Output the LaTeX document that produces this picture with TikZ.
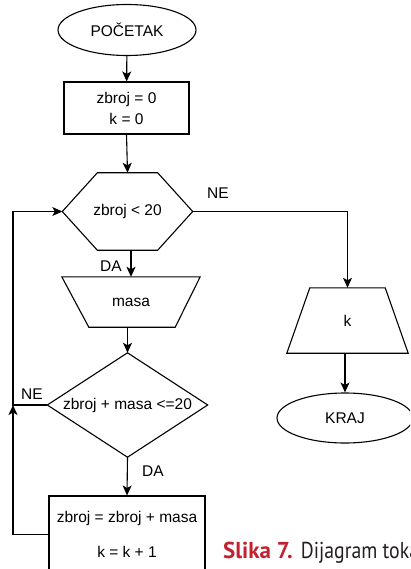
\documentclass[tikz,border=0pt]{standalone}
\usepackage{fontspec}
\setmainfont{Liberation Sans}
\newfontfamily\capfont[FakeStretch=0.86,BoldFeatures={FakeStretch=1.0}]{PT Sans}
\usetikzlibrary{arrows.meta,calc}
\definecolor{capred}{HTML}{C42130}
\definecolor{capgray}{HTML}{231F20}
\tikzset{
  every picture/.style={x=1pt,y=-1pt},
  flow/.style={line width=1.1pt,draw=black},
  arr/.style={flow,-{Stealth[length=10pt,width=9pt,inset=2.5pt]}},
  lbl/.style={font=\fontsize{15.5}{18}\selectfont,inner sep=0pt},
  txt/.style={font=\fontsize{15.5}{21}\selectfont,align=center,inner sep=0pt},
  terminal/.style={txt,flow,ellipse,minimum width=#1,minimum height=51pt},
  procbox/.style={txt,flow,rectangle},
  plain/.style={txt,draw=none}
}
\usetikzlibrary{shapes.geometric}
\begin{document}
\begin{tikzpicture}
\useasboundingbox (0,0) rectangle (410,569);
\clip (0,0) rectangle (410,569);

% start and initialisation
\node[terminal=138pt] (start) at (127,30) {POČETAK};
\node[procbox,minimum width=125pt,minimum height=52pt] (init) at (126.5,108) {zbroj = 0\\k = 0};

% loop condition (hexagon)
\node[plain,minimum width=130pt,minimum height=77pt] (hex) at (127.5,211.5) {zbroj < 20};
\draw[flow] (hex.west) -- ($(hex.north west)+(35,0)$) -- ($(hex.north east)+(-35,0)$)
  -- (hex.east) -- ($(hex.south east)+(-35,0)$) -- ($(hex.south west)+(35,0)$) -- cycle;

% input of the mass (inverted trapezoid)
\node[plain,minimum width=138pt,minimum height=50pt] (masa) at (131,302) {masa};
\draw[flow] (masa.north west) -- (masa.north east) -- ($(masa.south east)+(-25,0)$)
  -- ($(masa.south west)+(27,0)$) -- cycle;

% capacity check (diamond)
\node[plain,minimum width=160pt,minimum height=104pt] (dia) at (127.5,405) {zbroj + masa <=20};
\draw[flow] (dia.west) -- (dia.north) -- (dia.east) -- (dia.south) -- cycle;

% accumulate
\node[procbox,minimum width=156pt,minimum height=77pt,font=\fontsize{15.5}{35}\selectfont] (acc) at (127,534.5) {zbroj = zbroj + masa\\k = k + 1};

% output of k (trapezoid)
\node[plain,minimum width=121pt,minimum height=65pt] (kout) at (347.5,320.5) {k};
\draw[flow] ($(kout.north west)+(23,0)$) -- ($(kout.north east)+(-23,0)$)
  -- (kout.south east) -- (kout.south west) -- cycle;

% end
\node[terminal=136pt,minimum height=50pt] (stop) at (345,418) {KRAJ};

% connectors
\coordinate (back) at (13,405);
\draw[arr] (start) -- (init);
\draw[arr] (init.south) -- (hex.north);
\draw[arr] (hex.east) -| (kout.north);
\draw[arr] (masa.north |- hex.south) -- (masa.north);
\draw[arr] (dia.north |- masa.south) -- (dia.north);
\draw[arr] (dia.south) -- (acc.north);
\draw[arr] (kout.south -| stop.north) -- (stop.north);
\draw[arr] (dia.west) -- (back) |- (hex.west);
\draw[arr] (acc.west) -| (back);

% branch labels
\node[lbl,anchor=base west] (ne1) at (207,199) {NE};
\node[lbl,anchor=base west] (da1) at (100,271) {DA};
\node[lbl,anchor=base west] (ne2) at (21,399) {NE};
\node[lbl,anchor=base west] (da2) at (142,476) {DA};

% caption
\node[anchor=base west,inner sep=0pt,font=\capfont\fontsize{23}{26}\selectfont] (cap) at (223,558)
  {\textcolor{capred}{\bfseries Slika 7.}\hspace{1pt} \textcolor{capgray}{Dijagram toka}};
\end{tikzpicture}
\end{document}
